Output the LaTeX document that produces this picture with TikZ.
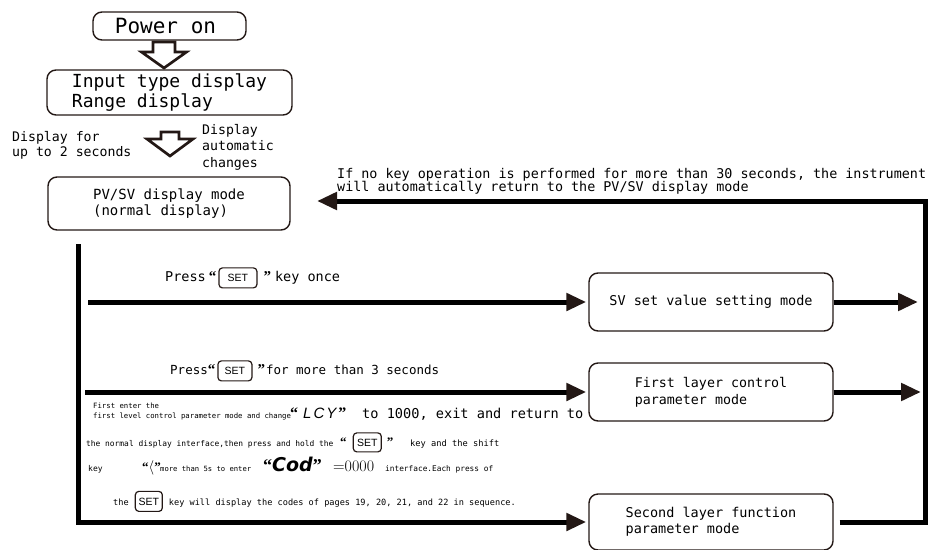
\documentclass[tikz,border=0pt]{standalone}
\usepackage{fontspec}
\usetikzlibrary{arrows.meta,calc}
\newfontfamily\mono{DejaVu Sans Mono}
\newfontfamily\keyf{Liberation Sans}
\newfontfamily\qf{Liberation Serif}
\newfontfamily\segf{DejaVu Sans}
\newfontfamily\segl{Liberation Sans}
\definecolor{ink}{HTML}{231815}
\newcommand\fsz[1]{\fontsize{#1}{#1}\selectfont}
\newcommand\keybox[4]{\tikz[baseline=(kk.base)]\node[draw=ink,line width=1.2pt,rounded corners=3.5pt,inner sep=0pt,minimum width=#1,minimum height=#2,font=\keyf\fsz{#3}#4](kk){SET};}
\newcommand\oq[1]{{\qf\bfseries\fsz{#1}“}}
\newcommand\cq[1]{{\qf\bfseries\fsz{#1}”}}
\begin{document}
\begin{tikzpicture}[x=1pt,y=-1pt,
  box/.style={draw=ink,line width=1.4pt,rounded corners=9pt,inner sep=0pt,align=left},
  flow/.style={line width=5pt,-{Triangle[length=20pt,width=17pt,color=ink]}},
  hollow/.style={draw=ink,line width=2.7pt,line join=miter,fill=white},
  txt/.style={anchor=base west,inner sep=0pt}]
\useasboundingbox (0,0) rectangle (928,549);
% boxes
\node[box,minimum width=153pt,minimum height=28pt,font=\mono\fsz{21}] (power) at (169.5,26) {Power on\hspace{8pt}};
\node[box,minimum width=245pt,minimum height=45pt,font=\mono\fontsize{18}{20}\selectfont] (input) at (169.5,92.5) {Input type display\\Range display};
\node[box,minimum width=242pt,minimum height=53pt,font=\mono\fontsize{14}{16}\selectfont] (pvsv) at (169,203.5) {PV/SV display mode\\(normal display)};
\node[box,minimum width=244pt,minimum height=58pt,font=\mono\fsz{13.5}] (sv) at (711,302) {SV set value setting mode};
\node[box,minimum width=244pt,minimum height=58pt,font=\mono\fontsize{13.3}{17}\selectfont] (first) at (711,392) {First layer control\\parameter mode};
\node[box,minimum width=244pt,minimum height=56pt,font=\mono\fontsize{13.5}{16}\selectfont,text depth=4pt] (second) at (711,522) {Second layer function\\parameter mode};
% hollow arrows
\draw[hollow] (153,42) -- (153,52) -- (141.5,52) -- (164,68) -- (186.5,52) -- (175,52) -- (175,42) -- cycle;
\draw[hollow] (161,132) -- (161,139) -- (147,139) -- (170,156) -- (193,139) -- (179,139) -- (179,132) -- cycle;
% flow lines
\coordinate (trunk) at (78.5,244);
\coordinate (b1) at (88,0);
\coordinate (b2) at (85,0);
\coordinate (rtip) at (918,0);
\coordinate (rtip2) at (921,0);
\coordinate (rt) at (925.5,201);
\coordinate (ret) at (317,201);
\draw[flow,shorten >=2pt] (trunk) |- (second.west);
\draw[flow,shorten >=2pt] (sv.west -| b1) -- (sv.west);
\draw[flow,shorten >=2pt] (first.west -| b2) -- (first.west);
\draw[flow] (sv.east) -- (sv.east -| rtip);
\draw[flow] (first.east) -- (first.east -| rtip2);
\draw[flow] ([xshift=6pt]second.east) -| (rt) -- (ret);
% annotations
\begin{scope}[font=\mono\fsz{13.2}]
\node[txt] (d1a) at (12,141) {Display for};
\node[txt] (d1b) at (12,156) {up to 2 seconds};
\node[txt] (d2a) at (202,134) {Display};
\node[txt] (d2b) at (202,150.5) {automatic};
\node[txt] (d2c) at (202,167) {changes};
\end{scope}
\begin{scope}[font=\mono\fsz{13.4}]
\node[txt] (n1) at (337,178) {If no key operation is performed for more than 30 seconds, the instrument};
\node[txt] (n2) at (337,191) {will automatically return to the PV/SV display mode};
\end{scope}
\node[txt,font=\mono\fsz{13.5}] (p1) at (165,281.5) {Press\hspace{3pt}\oq{15}\hspace{2pt}\keybox{38pt}{20pt}{10.5}{}\hspace{6pt}\cq{15}\hspace{4pt}key once};
\node[txt,font=\mono\fsz{12.5}] (p2) at (170,374.5) {Press\oq{15}\hspace{2pt}\keybox{34pt}{20pt}{10.5}{}\hspace{5pt}\cq{15}\hspace{1pt}for more than 3 seconds};
% paragraph
\node[txt,font=\mono\fsz{7.3}] (l1) at (93,408) {First enter the};
\node[txt,font=\mono\fsz{7.3}] (l2a) at (93,418) {first level control parameter mode and change};
\node[txt] (l2b) at (290,418) {\oq{16}\hspace{5pt}{\segl\itshape\fsz{15}L\hspace{2pt}C\hspace{2pt}Y}\hspace{2pt}\cq{16}};
\node[txt,font=\mono\fsz{13.6}] (l2c) at (362,418) {to 1000, exit and return to};
\node[txt,font=\mono\fsz{7.9}] (l3a) at (86,446) {the normal display interface,then press and hold the};
\node[txt] (l3b) at (340,446) {\oq{13}\hspace{6pt}\keybox{28pt}{19pt}{10.5}{}\hspace{5pt}\cq{13}};
\node[txt,font=\mono\fsz{8.7}] (l3c) at (410,446) {key and the shift};
\node[txt,font=\mono\fsz{8}] (l4a) at (88,471) {key};
\node[txt] (l4b) at (142,471) {\oq{13}{\fsz{14}$\langle$}\cq{13}};
\node[txt,font=\mono\fsz{7.2}] (l4c) at (160,471) {more than 5s to enter};
\node[txt] (l4d) at (263,471) {\oq{18}{\segf\bfseries\itshape\fsz{19}Cod}\cq{18}};
\node[txt,font=\rmfamily\fsz{16}] (l4e) at (333,471) {=0000};
\node[txt,font=\mono\fsz{7.8}] (l4f) at (385,471) {interface.Each press of};
\node[txt,font=\mono\fsz{8.6}] (l5) at (113,505) {the\hspace{6pt}\keybox{27pt}{20pt}{10.5}{}\hspace{6pt}key will display the codes of pages 19, 20, 21, and 22 in sequence.};
\end{tikzpicture}
\end{document}
